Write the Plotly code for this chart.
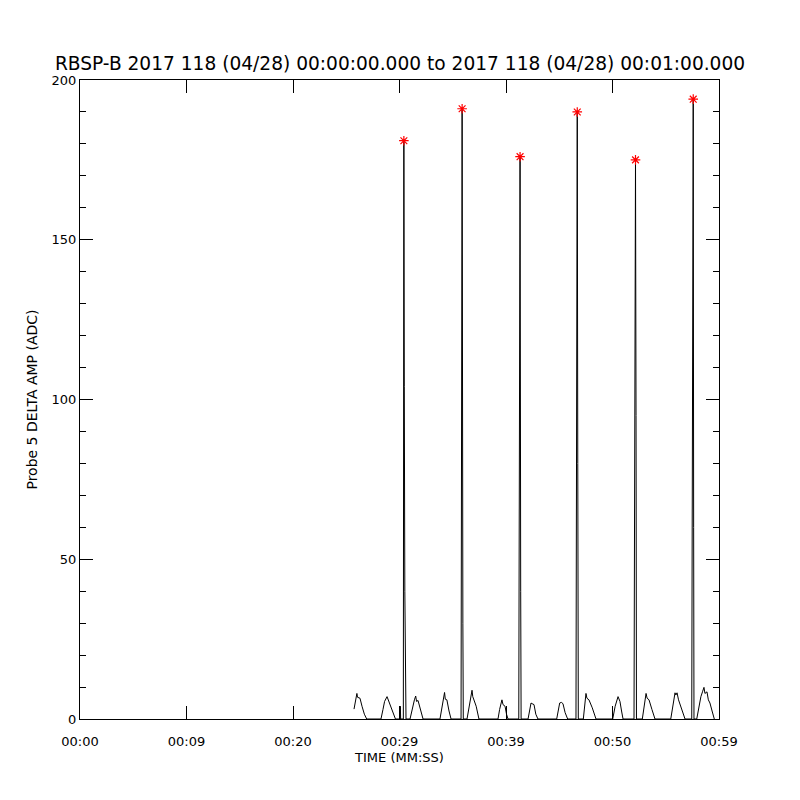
import plotly.graph_objects as go

# Time (seconds after 00:00:00) and Probe 5 delta amplitude (ADC)
time_s = [
    25.73, 25.85, 26.00, 26.06, 26.29, 26.48, 26.70, 26.92,
    28.26, 28.45, 28.60, 28.83, 29.00, 29.11, 29.35, 29.62,
    30.05, 30.08, 30.11,
    30.36, 30.41, 30.45, 30.50, 30.56, 30.61,
    30.99, 31.20, 31.40, 31.52, 31.60, 31.74, 31.95, 32.21,
    33.80, 34.00, 34.15, 34.23, 34.30, 34.45, 34.65, 34.84,
    35.78, 35.83, 35.88, 35.95, 35.99,
    36.34, 36.50, 36.70, 36.81, 36.88, 37.00, 37.20, 37.46,
    39.25, 39.40, 39.62, 39.72, 39.91, 40.05, 40.19,
    41.20, 41.25, 41.32, 41.38, 41.42,
    42.07, 42.20, 42.35, 42.45, 42.63, 42.80, 43.00,
    44.76, 44.90, 45.04, 45.20, 45.35, 45.55, 45.79,
    46.57, 46.61, 46.66, 46.69, 46.74, 46.79,
    47.26, 47.40, 47.51, 47.60, 47.79, 48.10, 48.45,
    50.02, 50.25, 50.52, 50.60, 50.70, 50.85, 50.99,
    52.02, 52.08, 52.16, 52.21, 52.25,
    52.80, 53.00, 53.15, 53.25, 53.43, 53.70, 53.99,
    55.47, 55.65, 55.87, 55.95, 56.06, 56.20, 56.50, 56.81,
    57.44, 57.50, 57.58, 57.62, 57.65,
    57.91, 58.10, 58.30, 58.45, 58.59, 58.68, 58.87, 59.00, 59.15, 59.35, 59.56,
]
amp_adc = [
    3.1, 5.5, 8.0, 6.8, 6.5, 4.0, 1.5, 0,
    0, 3.0, 5.5, 7.0, 5.5, 4.5, 2.0, 0,
    0, 4.0, 0,
    0, 181, 104, 40, 13, 0,
    0, 3.5, 6.0, 7.2, 5.5, 5.8, 3.0, 0,
    0, 3.5, 6.5, 8.3, 6.2, 6.0, 2.5, 0,
    0, 114, 191, 30, 0,
    0, 3.5, 7.0, 9.0, 7.0, 6.0, 4.0, 0,
    0, 3.0, 6.0, 4.5, 4.0, 1.5, 0,
    0, 126, 176, 40, 0,
    0, 3.0, 5.0, 4.8, 4.5, 1.5, 0,
    0, 2.5, 5.0, 5.2, 4.8, 2.0, 0,
    0, 116, 122, 190, 80, 0,
    0, 4.0, 8.0, 6.5, 6.0, 3.5, 0,
    0, 4.0, 7.0, 6.0, 5.5, 2.5, 0,
    0, 130, 175, 95, 0,
    0, 4.5, 8.0, 6.5, 6.0, 3.0, 0,
    0, 4.0, 8.2, 7.5, 8.2, 6.0, 3.0, 0,
    0, 122, 194, 60, 0,
    0, 4.0, 7.0, 8.5, 9.9, 8.0, 8.5, 6.0, 5.0, 2.5, 0,
]

# Detected peaks (red asterisks)
peak_t = [30.41, 35.88, 41.32, 46.69, 52.16, 57.58]
peak_v = [181, 191, 176, 190, 175, 194]

# Axis ticks
x_tickvals = [0, 10, 20, 30, 40, 50, 60]
x_ticktext = ["00:00", "00:09", "00:20", "00:29", "00:39", "00:50", "00:59"]
y_tickvals = [0, 50, 100, 150, 200]

title_text = "RBSP-B 2017 118 (04/28) 00:00:00.000 to 2017 118 (04/28) 00:01:00.000"

fig = go.Figure()
fig.add_trace(go.Scatter(
    x=time_s, y=amp_adc, mode="lines",
    line=dict(color="black", width=1), showlegend=False, hoverinfo="skip",
))
fig.add_trace(go.Scatter(
    x=peak_t, y=peak_v, mode="markers",
    marker=dict(symbol="asterisk-open", size=8, color="red",
                line=dict(color="red", width=1.2)),
    showlegend=False,
))

font_family = "DejaVu Sans"
fig.update_layout(
    width=800, height=800,
    margin=dict(l=80, r=81, t=80, b=81),
    paper_bgcolor="white", plot_bgcolor="white",
    font=dict(family=font_family, color="black", size=13),
    title=dict(text=title_text, x=0.5, xanchor="center",
               y=1 - 63 / 800, yref="container", yanchor="middle",
               font=dict(size=18.6, family=font_family, color="black")),
    xaxis=dict(
        range=[0, 60], tickmode="array", tickvals=x_tickvals, ticktext=x_ticktext,
        ticks="inside", ticklen=13, tickcolor="black", tickwidth=1,
        showline=True, linecolor="black", linewidth=1, mirror="ticks",
        showgrid=False, zeroline=False, ticklabelstandoff=10,
        tickfont=dict(size=13),
        title=dict(text="TIME (MM:SS)", font=dict(size=13), standoff=5),
    ),
    yaxis=dict(
        range=[0, 200], tickmode="array", tickvals=y_tickvals,
        ticks="inside", ticklen=13, tickcolor="black", tickwidth=1,
        showline=True, linecolor="black", linewidth=1, mirror="ticks",
        showgrid=False, zeroline=False, tickfont=dict(size=13),
        minor=dict(dtick=10, ticks="inside", ticklen=6, tickcolor="black",
                   tickwidth=1, showgrid=False),
        title=dict(text="Probe 5 DELTA AMP (ADC)", font=dict(size=14), standoff=10),
    ),
)

fig.write_html("out.html", config={"displayModeBar": False},
               post_script="document.body.style.margin='0';")
